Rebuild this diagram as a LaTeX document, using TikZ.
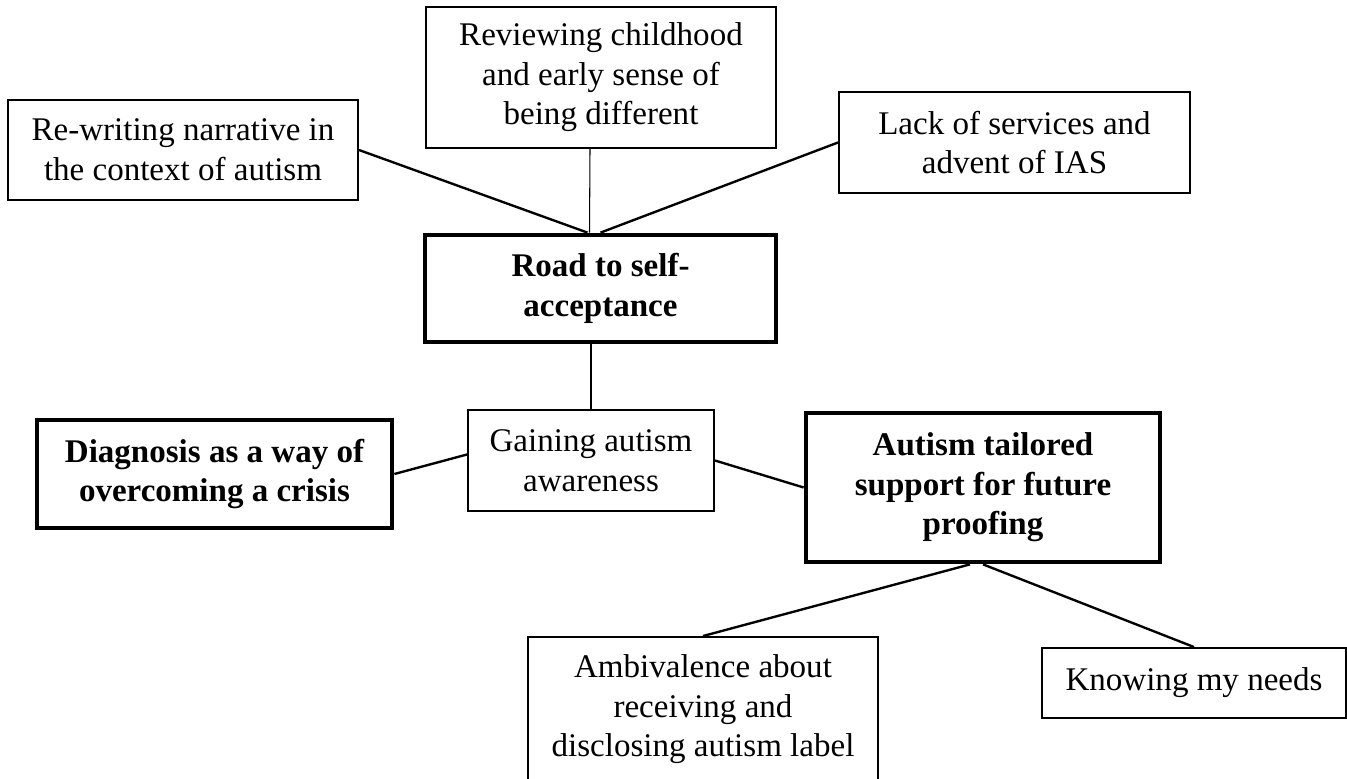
\documentclass[tikz,border=0pt]{standalone}
\usepackage{fontspec}
\setmainfont{Liberation Serif}
\usepackage{tikz}
\tikzset{
  theme/.style={draw=black, fill=white, line width=1.1pt, align=center, inner sep=0pt,
                font=\fontsize{18.8}{22.5}\selectfont},
  keytheme/.style={theme, line width=2.7pt, font=\fontsize{18.8}{22.5}\selectfont\bfseries},
  link/.style={line width=1.35pt, black},
  thinlink/.style={line width=0.6pt, black},
}
\begin{document}
\begin{tikzpicture}[x=1cm, y=1cm]
\useasboundingbox (0,0) rectangle (26.94,15.56);
% upper ring of sub-themes
\node[theme, minimum width=7cm, minimum height=2.82cm] (rev) at (12.02,14.01)
  {Reviewing childhood\\and early sense of\\being different};
\node[theme, minimum width=7cm, minimum height=2cm] (rew) at (3.66,12.56)
  {Re-writing narrative in\\the context of autism};
\node[theme, minimum width=7.02cm, minimum height=2.02cm] (lack) at (20.29,12.71)
  {Lack of services and\\advent of IAS};
\node[keytheme, minimum width=7.02cm, minimum height=2.14cm] (road) at (12.01,9.79)
  {Road to self-\\acceptance};
\draw[link] (rew.east) -- ([xshift=-0.26cm]road.north);
\draw[thinlink] ([xshift=-0.22cm]rev.south) -- ([xshift=-0.22cm]road.north);
\draw[link] (lack.west) -- (road.north);
% middle row
\node[theme, minimum width=4.92cm, minimum height=2.02cm] (gain) at (11.82,6.35)
  {Gaining autism\\awareness};
\node[keytheme, minimum width=7.1cm, minimum height=2.16cm] (diag) at (4.29,6.08)
  {Diagnosis as a way of\\overcoming a crisis};
\node[keytheme, minimum width=7.08cm, minimum height=2.98cm] (tail) at (19.66,5.81)
  {Autism tailored\\support for future\\proofing};
\draw[link] (gain.north |- road.south) -- (gain.north);
\draw[link] (diag.east) -- ([yshift=0.12cm]gain.west);
\draw[link] (gain.east) -- (tail.west);
% lower sub-themes
\node[theme, minimum width=7cm, minimum height=2.9cm] (amb) at (14.06,1.37)
  {Ambivalence about\\receiving and\\disclosing autism label};
\node[theme, minimum width=6.08cm, minimum height=1.4cm] (need) at (23.88,1.9)
  {Knowing my needs};
\draw[link] ([xshift=-0.26cm]tail.south) -- (amb.north);
\draw[link] (tail.south) -- (need.north);
\end{tikzpicture}
\end{document}
